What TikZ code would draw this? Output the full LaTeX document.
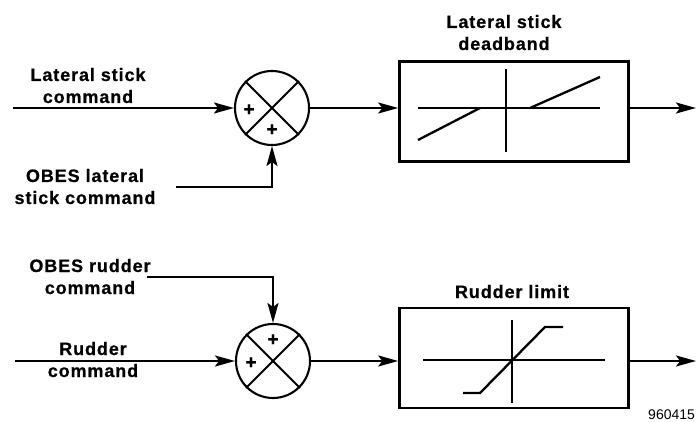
\documentclass[tikz,border=0pt]{standalone}
\usepackage{fontspec}
\setmainfont{Liberation Sans}
\newfontfamily\labfont{Liberation Sans}[LetterSpace=5,BoldFeatures={FakeBold=0.6}]
\usetikzlibrary{arrows.meta}
\begin{document}
\begin{tikzpicture}[x=1pt,y=-1pt,line width=2.1pt,
  lbl/.style={font=\labfont\bfseries\fontsize{18}{22}\selectfont,align=center,inner sep=0},
  plus/.style={font=\labfont\bfseries\fontsize{19}{19}\selectfont,inner sep=0},
  sumj/.style={circle,draw,minimum size=74pt,inner sep=0},
  blk/.style={draw,line width=2.6pt,minimum width=229pt,minimum height=100pt,inner sep=0},
  sig/.style={-{Stealth[length=20pt,width=11pt,inset=4pt]}},
  curve/.style={line width=2.3pt}]
\useasboundingbox (0,0) rectangle (696,422);
% top row
\node[sumj] (s1) at (272,108) {};
\draw (s1.45) -- (s1.225) (s1.135) -- (s1.315);
\node[plus] (p1a) at (249,110) {+};
\node[plus] (p1b) at (272,130) {+};
\node[blk] (b1) at (514,111.5) {};
\node[lbl,anchor=base] (t1) at (88,103) {Lateral stick\\command};
\node[lbl,anchor=base] (t2) at (85,204) {OBES lateral\\stick command};
\node[lbl,anchor=base] (t3) at (504,50) {Lateral stick\\deadband};
\coordinate (in1) at (13,108);
\coordinate (in2) at (176,187);
\coordinate (out1) at (696,108);
\draw[sig] (in1) -- (s1.west);
\draw[sig] (in2) -| (s1.south);
\draw[sig] (s1.east) -- (s1.east -| b1.west);
\draw[sig] (b1.east |- out1) -- (out1);
% deadband graph
\draw[curve] (418,108) -- (600,108);
\draw[curve] (506,69) -- (506,152);
\draw[curve] (418,140) -- (480,108);
\draw[curve] (530,108) -- (600,77);
% bottom row
\node[sumj] (s2) at (273,361) {};
\draw (s2.45) -- (s2.225) (s2.135) -- (s2.315);
\node[plus] (p2a) at (273,340) {+};
\node[plus] (p2b) at (251,363) {+};
\node[blk] (b2) at (514,358) {};
\node[lbl,anchor=base] (t4) at (90,294) {OBES rudder\\command};
\node[lbl,anchor=base] (t5) at (93,377) {Rudder\\command};
\node[lbl,anchor=base] (t6) at (512,298) {Rudder limit};
\coordinate (in3) at (15,361);
\coordinate (in4) at (147,277);
\coordinate (out2) at (696,361);
\draw[sig] (in3) -- (s2.west);
\draw[sig] (in4) -| (s2.north);
\draw[sig] (s2.east) -- (s2.east -| b2.west);
\draw[sig] (b2.east |- out2) -- (out2);
% limiter graph
\draw[curve] (423,360) -- (605,360);
\draw[curve] (512,320) -- (512,403);
\draw[curve] (463,393) -- (480,393) -- (545,327) -- (563,327);
\node[font=\fontsize{14}{14}\selectfont,anchor=south east,inner sep=0] (id) at (696,421) {960415};
\end{tikzpicture}
\end{document}
